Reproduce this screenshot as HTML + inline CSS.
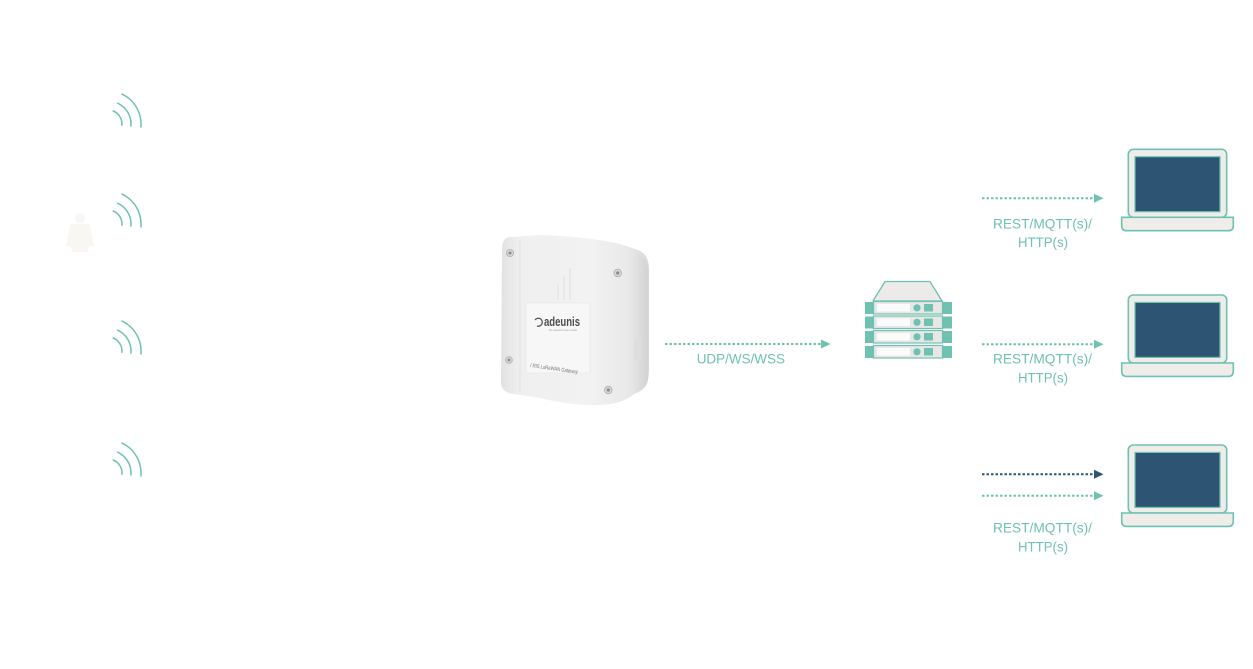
<!DOCTYPE html>
<html>
<head>
<meta charset="utf-8">
<style>
html,body{margin:0;padding:0;background:#ffffff;}
body{width:1253px;height:669px;overflow:hidden;}
svg{display:block;}
text{font-family:"Liberation Sans",sans-serif;}
</style>
</head>
<body>
<svg width="1253" height="669" viewBox="0 0 1253 669" xmlns="http://www.w3.org/2000/svg">
<defs>
  <linearGradient id="body" x1="0" y1="0" x2="1" y2="0">
    <stop offset="0" stop-color="#e2e2e2"/>
    <stop offset="0.12" stop-color="#efefef"/>
    <stop offset="0.6" stop-color="#f2f2f2"/>
    <stop offset="0.85" stop-color="#e9e9e9"/>
    <stop offset="1" stop-color="#d8d8d8"/>
  </linearGradient>
  <linearGradient id="side" x1="0" y1="0" x2="1" y2="0">
    <stop offset="0" stop-color="#e8e8e8"/>
    <stop offset="1" stop-color="#d2d2d2"/>
  </linearGradient>
  <g id="wifi" fill="none" stroke="#6fc1b1" stroke-width="1.5" stroke-linecap="round">
    <path d="M113.2,111.0 A14,14 0 0 1 121.9,125.2"/>
    <path d="M117.7,103.2 A23,23 0 0 1 130.9,126.0"/>
    <path d="M121.9,94.1 A33,33 0 0 1 140.9,126.9"/>
  </g>
  <g id="laptop">
    <rect x="1128.3" y="149.3" width="98.4" height="68" rx="5" fill="#efedea" stroke="#6fc1b1" stroke-width="1.6"/>
    <rect x="1135" y="156.7" width="85" height="55" fill="#2d5573" stroke="#6fc1b1" stroke-width="1.2"/>
    <path d="M1121.7,217.3 L1233.3,217.3 L1233.3,225.7 Q1233.3,230.7 1228.3,230.7 L1126.7,230.7 Q1121.7,230.7 1121.7,225.7 Z" fill="#efedea" stroke="#6fc1b1" stroke-width="1.6"/>
  </g>
  <g id="srow">
    <rect x="865" y="302" width="8" height="12" fill="#6fc1b1"/>
    <rect x="943" y="302" width="9" height="12" fill="#6fc1b1"/>
    <rect x="873.5" y="301.5" width="69" height="12.5" fill="#e9e7e5" stroke="#6fc1b1" stroke-width="1.2"/>
    <rect x="877" y="304" width="33" height="7.5" fill="#fbfbfb"/>
    <circle cx="917" cy="307.8" r="3.6" fill="#6fc1b1"/>
    <rect x="924" y="304" width="9" height="7.5" fill="#6fc1b1"/>
  </g>
</defs>

<!-- faint person -->
<g fill="#f8f7f4">
  <circle cx="80" cy="218" r="5"/>
  <path d="M70,224 L90,224 L94,246 L89,246 L88,252 L72,252 L71,246 L66,246 Z"/>
</g>

<!-- wifi signals -->
<use href="#wifi"/>
<use href="#wifi" transform="translate(0,100)"/>
<use href="#wifi" transform="translate(0,227)"/>
<use href="#wifi" transform="translate(0,349)"/>

<!-- gateway device -->
<g>
  <path d="M512,237 C504,237 502,242 502,250 L501,382 C501,390 506,393 514,394 L540,398 C560,403 585,406 600,405 C618,404 628,400 636,392 L646,385 C649,380 649,372 649,365 L649,270 C649,258 645,252 635,249 L620,244 C600,239 570,236 540,235 Z" fill="url(#body)"/>
  <path d="M630,252 C642,254 648,260 648,272 L648,378 C648,386 642,391 634,394 L630,394 Z" fill="url(#side)"/>
  <path d="M520,240 L520,392" stroke="#e2e2e2" stroke-width="1"/>
  <rect x="634" y="338" width="7" height="22" rx="2" fill="#dedede"/>
  <g stroke="#e3e3e3" stroke-width="1.2">
    <line x1="558" y1="285" x2="558" y2="300"/>
    <line x1="564" y1="276" x2="564" y2="300"/>
    <line x1="570" y1="268" x2="570" y2="300"/>
  </g>
  <rect x="526" y="303" width="64" height="70" fill="#f7f7f7" stroke="#e6e6e6" stroke-width="0.6"/>
  <path d="M535,320 A4,4 0 1 1 537,326" fill="none" stroke="#555" stroke-width="1.3"/>
  <text x="544" y="326" font-size="13" font-weight="bold" fill="#4d4d4d" textLength="36" lengthAdjust="spacingAndGlyphs">adeunis</text>
  <text x="549" y="331" font-size="3" fill="#999" textLength="28" lengthAdjust="spacingAndGlyphs">the network of your needs</text>
  <text x="530" y="367" font-size="5.5" fill="#777" transform="rotate(8 530 367)" textLength="48" lengthAdjust="spacingAndGlyphs">/ RIS LoRaWAN Gateway</text>
  <g>
    <circle cx="510" cy="253" r="3.6" fill="#d6d6d6" stroke="#b0b0b0" stroke-width="0.8"/>
    <circle cx="510" cy="253" r="1.5" fill="#8a8a8a"/>
    <circle cx="617.7" cy="273" r="3.8" fill="#d6d6d6" stroke="#b0b0b0" stroke-width="0.8"/>
    <circle cx="617.7" cy="273" r="1.6" fill="#8a8a8a"/>
    <circle cx="509" cy="360" r="3.4" fill="#d6d6d6" stroke="#b0b0b0" stroke-width="0.8"/>
    <circle cx="509" cy="360" r="1.4" fill="#8a8a8a"/>
    <circle cx="608.3" cy="390" r="3.8" fill="#d6d6d6" stroke="#b0b0b0" stroke-width="0.8"/>
    <circle cx="608.3" cy="390" r="1.6" fill="#8a8a8a"/>
  </g>
</g>

<!-- UDP arrow -->
<line x1="665" y1="344" x2="823" y2="344" stroke="#6fc1b1" stroke-width="2" stroke-dasharray="2.5 2"/>
<path d="M821,339.5 L830.5,344 L821,348.5 Z" fill="#6fc1b1"/>
<text x="696.7" y="363.3" font-size="14" fill="#6fc1b1" textLength="88.3" lengthAdjust="spacingAndGlyphs">UDP/WS/WSS</text>

<!-- server -->
<path d="M885,281.5 L930,281.5 L942,301 L873,301 Z" fill="#ecebe9" stroke="#6fc1b1" stroke-width="1.3" stroke-linejoin="round"/>
<use href="#srow"/>
<use href="#srow" transform="translate(0,14.5)"/>
<use href="#srow" transform="translate(0,29)"/>
<use href="#srow" transform="translate(0,44)"/>

<!-- laptops -->
<use href="#laptop"/>
<use href="#laptop" transform="translate(0,145.7)"/>
<use href="#laptop" transform="translate(0,295.7)"/>

<!-- arrows to laptops -->
<g stroke-width="2" stroke-dasharray="2.5 2">
  <line x1="982" y1="198.3" x2="1096" y2="198.3" stroke="#6fc1b1"/>
  <line x1="982" y1="344.3" x2="1096" y2="344.3" stroke="#6fc1b1"/>
  <line x1="982" y1="474.3" x2="1096" y2="474.3" stroke="#2d5573"/>
  <line x1="982" y1="495.7" x2="1096" y2="495.7" stroke="#6fc1b1"/>
</g>
<path d="M1094,193.8 L1103.5,198.3 L1094,202.8 Z" fill="#6fc1b1"/>
<path d="M1094,339.8 L1103.5,344.3 L1094,348.8 Z" fill="#6fc1b1"/>
<path d="M1094,469.8 L1103.5,474.3 L1094,478.8 Z" fill="#2d5573"/>
<path d="M1094,491.2 L1103.5,495.7 L1094,500.2 Z" fill="#6fc1b1"/>

<!-- labels -->
<g font-size="14" fill="#6fc1b1">
  <text x="993" y="228.6" textLength="99" lengthAdjust="spacingAndGlyphs">REST/MQTT(s)/</text>
  <text x="1018" y="247.2" textLength="50" lengthAdjust="spacingAndGlyphs">HTTP(s)</text>
  <text x="993" y="363.6" textLength="99" lengthAdjust="spacingAndGlyphs">REST/MQTT(s)/</text>
  <text x="1018" y="382.6" textLength="50" lengthAdjust="spacingAndGlyphs">HTTP(s)</text>
  <text x="993" y="532.6" textLength="99" lengthAdjust="spacingAndGlyphs">REST/MQTT(s)/</text>
  <text x="1018" y="551.3" textLength="50" lengthAdjust="spacingAndGlyphs">HTTP(s)</text>
</g>
</svg>
</body>
</html>
